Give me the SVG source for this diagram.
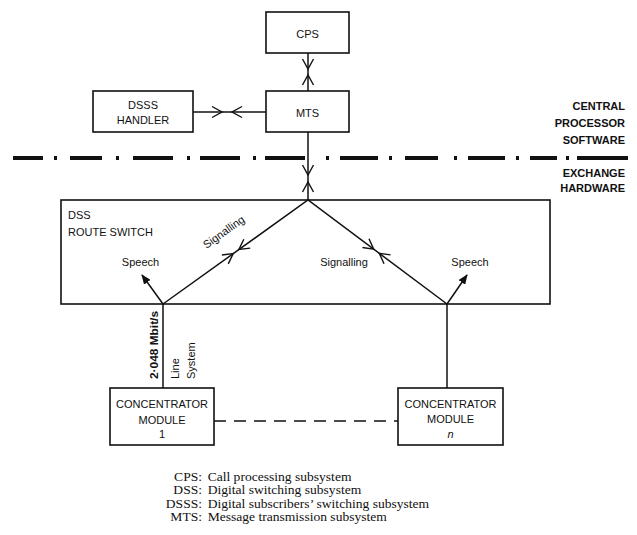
<svg xmlns="http://www.w3.org/2000/svg" xmlns:xlink="http://www.w3.org/1999/xlink" width="637" height="535" viewBox="0 0 637 535">
<style>
  .box { fill: #fff; stroke: #111; stroke-width: 1.6; }
  .ln { fill: none; stroke: #111; stroke-width: 1.5; }
  .lbl { font-family: "Liberation Sans", Arial, sans-serif; font-size: 11px; fill: #111; text-anchor: middle; }
  .side { font-family: "Liberation Sans", Arial, sans-serif; font-size: 11px; font-weight: bold; fill: #111; text-anchor: end; }
  .sm { font-family: "Liberation Sans", Arial, sans-serif; font-size: 11px; fill: #111; }
  .leg { font-family: "Liberation Serif", "Times New Roman", serif; font-size: 12px; fill: #111; }
</style>
<defs>
  <path id="chev" d="M-10,-5.5 L0,0 L-10,5.5" fill="none" stroke="#111" stroke-width="1.4"/>
  <marker id="fillArrow" markerWidth="10" markerHeight="8" refX="9" refY="4" orient="auto" markerUnits="userSpaceOnUse">
    <path d="M0,0 L10,4 L0,8 z" fill="#111"/>
  </marker>
</defs>
<rect width="637" height="535" fill="#fff"/>

<!-- boundary dash-dot line -->
<path id="boundary" d="M13,158H43 M54,158H57 M70,158H102 M116,158H119 M133,158H173 M187,158H190 M200,158H240 M253,158H256 M265,158H305 M326,158H329 M340,158H378 M389,158H392 M405,158H438 M454,158H457 M468,158H505 M516,158H519 M530,158H557 M566,158H569 M577,158H628" fill="none" stroke="#111" stroke-width="4"/>

<g id="connectors">
  <!-- CPS - MTS -->
  <line class="ln" x1="308" y1="53" x2="308" y2="91"/>
  <use xlink:href="#chev" transform="translate(308,69) rotate(90)"/>
  <use xlink:href="#chev" transform="translate(308,75) rotate(-90)"/>
  <!-- DSSS handler - MTS -->
  <line class="ln" x1="193" y1="112" x2="266" y2="112"/>
  <use xlink:href="#chev" transform="translate(222,112)"/>
  <use xlink:href="#chev" transform="translate(232,112) rotate(180)"/>
  <!-- MTS - route switch apex -->
  <line class="ln" x1="308" y1="132" x2="308" y2="200"/>
  <use xlink:href="#chev" transform="translate(308,175) rotate(90)"/>
  <use xlink:href="#chev" transform="translate(308,182) rotate(-90)"/>
  <!-- signalling diagonals -->
  <polyline class="ln" points="163,304 308,200 447,304"/>
  <use xlink:href="#chev" transform="translate(238.9,249.5) rotate(144.35)"/>
  <use xlink:href="#chev" transform="translate(233.2,253.6) rotate(-35.65)"/>
  <use xlink:href="#chev" transform="translate(373.7,249.1) rotate(36.8)"/>
  <use xlink:href="#chev" transform="translate(379.3,253.3) rotate(216.8)"/>
  <!-- speech arrows -->
  <line class="ln" x1="163" y1="304" x2="142" y2="275" marker-end="url(#fillArrow)"/>
  <line class="ln" x1="447" y1="304" x2="467" y2="275" marker-end="url(#fillArrow)"/>
  <!-- line systems to concentrators -->
  <line class="ln" x1="163" y1="304" x2="163" y2="388"/>
  <line class="ln" x1="447" y1="304" x2="447" y2="388"/>
  <!-- between concentrators -->
  <line class="ln" x1="214" y1="421" x2="398" y2="421" stroke-dasharray="12 8"/>
  <!-- connector labels -->
  <text class="sm" x="140.5" y="266" text-anchor="middle">Speech</text>
  <text class="sm" x="470" y="266" text-anchor="middle">Speech</text>
  <text class="sm" x="344" y="266" text-anchor="middle">Signalling</text>
  <text class="sm" x="226" y="235" text-anchor="middle" transform="rotate(-35.65 226 235)">Signalling</text>
  <text class="sm" transform="translate(158,379) rotate(-90)" font-weight="bold" textLength="68" lengthAdjust="spacingAndGlyphs">2·048 Mbit/s</text>
  <text class="sm" transform="translate(179,379) rotate(-90)">Line</text>
  <text class="sm" transform="translate(195,379) rotate(-90)">System</text>
</g>

<g id="cps">
  <rect class="box" x="266" y="12" width="83" height="41"/>
  <text class="lbl" x="307.5" y="38">CPS</text>
</g>
<g id="mts">
  <rect class="box" x="266" y="91" width="83" height="41"/>
  <text class="lbl" x="307.5" y="117">MTS</text>
</g>
<g id="dsss-handler">
  <rect class="box" x="93" y="91" width="100" height="41"/>
  <text class="lbl" x="143" y="109">DSSS</text>
  <text class="lbl" x="143" y="124">HANDLER</text>
</g>
<g id="route-switch">
  <rect x="61" y="200" width="489" height="104" fill="none" stroke="#111" stroke-width="1.6"/>
  <text class="sm" x="68" y="219">DSS</text>
  <text class="sm" x="68" y="236">ROUTE SWITCH</text>
</g>
<g id="concentrator-1">
  <rect class="box" x="110" y="388" width="104" height="57"/>
  <text class="lbl" x="162" y="408">CONCENTRATOR</text>
  <text class="lbl" x="162" y="424">MODULE</text>
  <text class="lbl" x="162" y="438">1</text>
</g>
<g id="concentrator-n">
  <rect class="box" x="398" y="388" width="105" height="57"/>
  <text class="lbl" x="450.5" y="408">CONCENTRATOR</text>
  <text class="lbl" x="450.5" y="423">MODULE</text>
  <text class="lbl" x="450.5" y="438" font-style="italic">n</text>
</g>

<g id="domain-labels">
  <text class="side" x="625" y="110">CENTRAL</text>
  <text class="side" x="625" y="127">PROCESSOR</text>
  <text class="side" x="625" y="144">SOFTWARE</text>
  <text class="side" x="625" y="177">EXCHANGE</text>
  <text class="side" x="625" y="192">HARDWARE</text>
</g>

<g id="legend" transform="matrix(1.13,0,0,1,-26.26,0)">
  <text class="leg" x="202" y="481" text-anchor="end">CPS:</text>
  <text class="leg" x="207" y="481">Call processing subsystem</text>
  <text class="leg" x="202" y="494.5" text-anchor="end">DSS:</text>
  <text class="leg" x="207" y="494.5">Digital switching subsystem</text>
  <text class="leg" x="202" y="508" text-anchor="end">DSSS:</text>
  <text class="leg" x="207" y="508">Digital subscribers’ switching subsystem</text>
  <text class="leg" x="202" y="521.5" text-anchor="end">MTS:</text>
  <text class="leg" x="207" y="521.5">Message transmission subsystem</text>
</g>
</svg>
